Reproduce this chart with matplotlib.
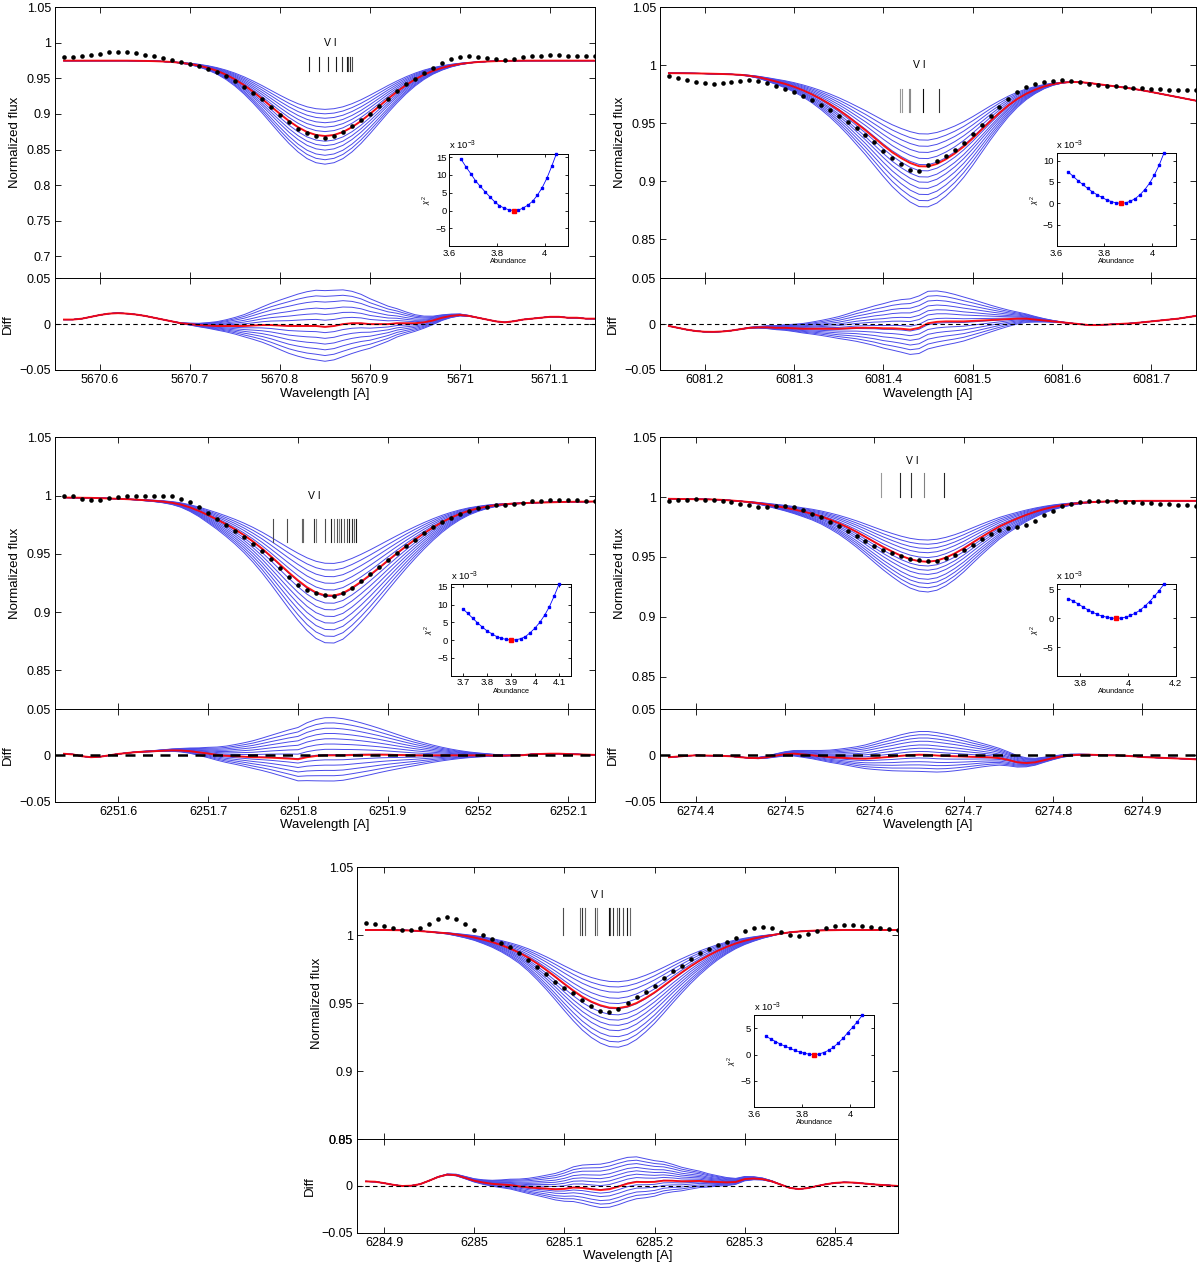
import numpy as np
import matplotlib
matplotlib.use("Agg")
import matplotlib.pyplot as plt
from matplotlib.ticker import FuncFormatter

plt.rcParams['font.family'] = ['Liberation Sans', 'DejaVu Sans']
plt.rcParams['mathtext.fontset'] = 'custom'
plt.rcParams['mathtext.rm'] = 'Liberation Sans'
plt.rcParams['mathtext.it'] = 'Liberation Sans:italic'

W, H = 1200, 1267
STEP = 0.01          # spectrum sampling [A]
BLUE = '#4b4bea'

# ---------------- V I 5670 ----------------
start_5670 = 5670.56
obs_5670 = [0.980, 0.980, 0.981, 0.983, 0.985, 0.9865, 0.987, 0.9865, 0.9853, 0.9836,
            0.9813, 0.9788, 0.9761, 0.9729, 0.9703, 0.9670, 0.9633, 0.9587, 0.9533, 0.9466,
            0.9386, 0.9299, 0.9204, 0.9097, 0.8986, 0.8881, 0.8795, 0.8727, 0.8685, 0.8660,
            0.8685, 0.8747, 0.8825, 0.8911, 0.9001, 0.9107, 0.9214, 0.9324, 0.9416, 0.9496,
            0.9573, 0.9647, 0.9718, 0.9770, 0.9803, 0.9809, 0.9801, 0.9788, 0.9773, 0.9766,
            0.978, 0.980, 0.981, 0.982, 0.983, 0.983, 0.982, 0.982, 0.981, 0.981]
fit_5670 = [0.975, 0.975, 0.975, 0.975, 0.975, 0.975, 0.975, 0.975, 0.9748, 0.9746,
             0.9743, 0.9738, 0.9731, 0.9719, 0.9703, 0.9680, 0.9648, 0.9607, 0.9553, 0.9486,
             0.9406, 0.9314, 0.9214, 0.9107, 0.9001, 0.8901, 0.8815, 0.8747, 0.8705, 0.8690,
             0.8705, 0.8747, 0.8815, 0.8901, 0.9001, 0.9107, 0.9214, 0.9314, 0.9406, 0.9486,
             0.9553, 0.9607, 0.9648, 0.9680, 0.9703, 0.9719, 0.9731, 0.9738, 0.9743, 0.9746,
             0.9748, 0.975, 0.975, 0.975, 0.975, 0.975, 0.975, 0.975, 0.975, 0.975]
cont_5670 = (5670.68, 5671.02)
depth_5670 = [0.64, 0.70, 0.76, 0.82, 0.88, 0.94, 1.00, 1.07, 1.13, 1.19, 1.26, 1.32, 1.38]
vlines_5670 = [5670.832, 5670.843, 5670.853, 5670.862, 5670.869, 5670.874, 5670.876, 5670.878, 5670.880]
vgrey_5670 = [0.1, 0.1, 0.15, 0.1, 0.2, 0.1, 0.3, 0.2, 0.3]
abund_5670 = [3.65, 3.67, 3.69, 3.71, 3.73, 3.75, 3.77, 3.79, 3.81, 3.83, 3.85,
              3.87, 3.89, 3.91, 3.93, 3.95, 3.97, 3.99, 4.01, 4.03, 4.05]
chi2_e3_5670 = [14.4, 12.3, 10.4, 8.4, 6.8, 5.3, 3.9, 2.5, 1.4, 0.7, 0.2,
                0.0, 0.1, 0.7, 1.5, 2.6, 4.3, 6.4, 9.1, 12.4, 16.0]

# ---------------- V I 6081 ----------------
start_6081 = 6081.16
obs_6081 = [0.9912, 0.9892, 0.9871, 0.9855, 0.9846, 0.9843, 0.9845, 0.9852, 0.9863, 0.9870,
            0.9863, 0.9845, 0.9820, 0.9800, 0.9770, 0.9735, 0.9700, 0.9660, 0.9615, 0.9565,
            0.9515, 0.9460, 0.9400, 0.9335, 0.9265, 0.9205, 0.9150, 0.9098, 0.9090, 0.9138,
            0.9175, 0.9220, 0.9270, 0.9330, 0.9405, 0.9485, 0.9565, 0.9640, 0.9710, 0.9770,
            0.9815, 0.9840, 0.9858, 0.9868, 0.9870, 0.9866, 0.9855, 0.9838, 0.9828, 0.9823,
            0.9818, 0.9813, 0.9807, 0.9804, 0.9800, 0.9795, 0.9790, 0.9785, 0.9785, 0.9785]
fit_6081 = [0.9932, 0.9932, 0.9931, 0.9930, 0.9929, 0.9927, 0.9925, 0.9922, 0.9918, 0.9910,
            0.9898, 0.9880, 0.9860, 0.9840, 0.9815, 0.9785, 0.9750, 0.9710, 0.9665, 0.9615,
            0.9560, 0.9500, 0.9440, 0.9375, 0.9310, 0.9250, 0.9200, 0.9158, 0.9130, 0.9128,
            0.9150, 0.9190, 0.9240, 0.9300, 0.9370, 0.9445, 0.9520, 0.9590, 0.9655, 0.9710,
            0.9755, 0.9790, 0.9818, 0.9838, 0.9850, 0.9856, 0.9855, 0.9848, 0.9838, 0.9828,
            0.9818, 0.9808, 0.9797, 0.9784, 0.9770, 0.9755, 0.9740, 0.9725, 0.9710, 0.9695]
cont_6081 = (6081.22, 6081.62)
depth_6081 = [0.63, 0.70, 0.77, 0.84, 0.91, 0.98, 1.05, 1.12, 1.18, 1.25, 1.32, 1.39, 1.46]
vlines_6081 = [6081.419, 6081.421, 6081.429, 6081.430, 6081.444, 6081.462]
vgrey_6081 = [0.6, 0.6, 0.55, 0.55, 0.05, 0.2]
abund_6081 = [3.65, 3.67, 3.69, 3.71, 3.73, 3.75, 3.77, 3.79, 3.81, 3.83, 3.85,
              3.87, 3.89, 3.91, 3.93, 3.95, 3.97, 3.99, 4.01, 4.03, 4.05]
chi2_e3_6081 = [7.3, 6.3, 5.3, 4.4, 3.5, 2.7, 2.0, 1.4, 0.8, 0.4, 0.1,
                0.0, 0.1, 0.5, 1.1, 2.0, 3.2, 4.7, 6.6, 8.9, 11.7]

# ---------------- V I 6251 ----------------
start_6251 = 6251.54
obs_6251 = [1.0000, 0.9992, 0.9971, 0.9960, 0.9963, 0.9975, 0.9987, 0.9994, 1.0000, 1.0000,
            1.0000, 0.9998, 0.9992, 0.9974, 0.9943, 0.9900, 0.9852, 0.9800, 0.9749, 0.9700,
            0.9646, 0.9586, 0.9523, 0.9453, 0.9378, 0.9303, 0.9230, 0.9193, 0.9161, 0.9143,
            0.9141, 0.9163, 0.9210, 0.9265, 0.9324, 0.9387, 0.9449, 0.9509, 0.9567, 0.9622,
            0.9676, 0.9726, 0.9771, 0.9810, 0.9843, 0.9870, 0.9890, 0.9906, 0.9915, 0.9923,
            0.9931, 0.9937, 0.9950, 0.9955, 0.9960, 0.9962, 0.9960, 0.9958, 0.9956, 0.9954]
fit_6251 = [0.9983, 0.9982, 0.9981, 0.9980, 0.9978, 0.9975, 0.9972, 0.9969, 0.9965, 0.9960,
            0.9955, 0.9948, 0.9938, 0.9922, 0.9898, 0.9868, 0.9832, 0.9795, 0.9754, 0.9710,
            0.9661, 0.9606, 0.9545, 0.9478, 0.9408, 0.9338, 0.9272, 0.9213, 0.9168, 0.9143,
            0.9141, 0.9163, 0.9207, 0.9260, 0.9318, 0.9380, 0.9443, 0.9505, 0.9565, 0.9622,
            0.9676, 0.9726, 0.9771, 0.9810, 0.9843, 0.9870, 0.9890, 0.9906, 0.9918, 0.9926,
            0.9931, 0.9935, 0.9938, 0.9940, 0.9942, 0.9944, 0.9946, 0.9947, 0.9948, 0.9949]
cont_6251 = (6251.60, 6252.06)
depth_6251 = [0.66, 0.73, 0.80, 0.87, 0.94, 1.01, 1.08, 1.15, 1.22, 1.29, 1.36, 1.43, 1.50]
vlines_6251 = [6251.772, 6251.788, 6251.804, 6251.806, 6251.818, 6251.820, 6251.830, 6251.837,
               6251.840, 6251.843, 6251.845, 6251.848, 6251.851, 6251.854, 6251.857, 6251.860,
               6251.862, 6251.864]
vgrey_6251 = [0.3, 0.3, 0.4, 0.4, 0.2, 0.5, 0.3, 0.1, 0.5, 0.3, 0.5, 0.2, 0.4, 0.3, 0.1, 0.2, 0.4, 0.1]
abund_6251 = [3.70, 3.72, 3.74, 3.76, 3.78, 3.80, 3.82, 3.84, 3.86, 3.88, 3.90,
              3.92, 3.94, 3.96, 3.98, 4.00, 4.02, 4.04, 4.06, 4.08, 4.10]
chi2_e3_6251 = [8.8, 7.5, 6.2, 4.9, 3.7, 2.6, 1.8, 1.0, 0.5, 0.2, 0.0,
                0.1, 0.4, 1.0, 2.1, 3.4, 5.0, 7.0, 9.4, 12.4, 15.7]

# ---------------- V I 6274 ----------------
start_6274 = 6274.37
obs_6274 = [0.9966, 0.9972, 0.9979, 0.9983, 0.9980, 0.9976, 0.9971, 0.9962, 0.9946, 0.9931,
            0.9920, 0.9918, 0.9922, 0.9924, 0.9915, 0.9890, 0.9863, 0.9830, 0.9793, 0.9758,
            0.9718, 0.9675, 0.9632, 0.9595, 0.9561, 0.9530, 0.9505, 0.9485, 0.9472, 0.9465,
            0.9468, 0.9488, 0.9520, 0.9559, 0.9604, 0.9649, 0.9690, 0.9725, 0.9740, 0.9747,
            0.9769, 0.9803, 0.9848, 0.9888, 0.9922, 0.9945, 0.9957, 0.9964, 0.9965, 0.9965,
            0.9966, 0.9963, 0.9958, 0.9951, 0.9947, 0.9943, 0.9939, 0.9935, 0.9931, 0.9926]
fit_6274 = [0.9986, 0.9985, 0.9984, 0.9983, 0.9982, 0.9980, 0.9977, 0.9972, 0.9966, 0.9959,
            0.9950, 0.9938, 0.9925, 0.9912, 0.9897, 0.9880, 0.9862, 0.9840, 0.9813, 0.9783,
            0.9748, 0.9710, 0.9668, 0.9625, 0.9583, 0.9545, 0.9510, 0.9482, 0.9465, 0.9460,
            0.9470, 0.9495, 0.9530, 0.9572, 0.9620, 0.9667, 0.9712, 0.9755, 0.9790, 0.9822,
            0.9852, 0.9878, 0.9900, 0.9918, 0.9932, 0.9943, 0.9951, 0.9957, 0.9961, 0.9964,
            0.9966, 0.9967, 0.9968, 0.9969, 0.9969, 0.9969, 0.9969, 0.9969, 0.9969, 0.9969]
cont_6274 = (6274.45, 6274.86)
depth_6274 = [0.64, 0.71, 0.78, 0.85, 0.93, 1.00, 1.07, 1.14, 1.21, 1.29, 1.36, 1.43, 1.50]
vlines_6274 = [6274.607, 6274.629, 6274.641, 6274.656, 6274.678]
vgrey_6274 = [0.6, 0.15, 0.2, 0.5, 0.15]
abund_6274 = [3.75, 3.77, 3.79, 3.81, 3.83, 3.85, 3.87, 3.89, 3.91, 3.93, 3.95,
              3.97, 3.99, 4.01, 4.03, 4.05, 4.07, 4.09, 4.11, 4.13, 4.15]
chi2_e3_6274 = [3.4, 3.0, 2.5, 2.0, 1.5, 1.1, 0.7, 0.4, 0.2, 0.05, 0.0,
                0.05, 0.2, 0.5, 0.9, 1.4, 2.1, 2.9, 3.8, 4.8, 5.9]

# ---------------- V I 6285 ----------------
start_6285 = 6284.88
obs_6285 = [1.0088, 1.0085, 1.0070, 1.0051, 1.0037, 1.0038, 1.0051, 1.0083, 1.0117, 1.0137,
            1.0122, 1.0083, 1.0041, 1.0005, 0.9973, 0.9944, 0.9912, 0.9868, 0.9820, 0.9770,
            0.9717, 0.9660, 0.9612, 0.9576, 0.9527, 0.9478, 0.9441, 0.9434, 0.9459, 0.9502,
            0.9546, 0.9580, 0.9624, 0.9685, 0.9734, 0.9776, 0.9824, 0.9868, 0.9898, 0.9929,
            0.9954, 0.9983, 1.0034, 1.0056, 1.0063, 1.0051, 1.0027, 1.0002, 0.9995, 1.0010,
            1.0034, 1.0056, 1.0071, 1.0078, 1.0076, 1.0068, 1.0059, 1.0051, 1.0046, 1.0039]
fit_6285 = [1.0039, 1.0039, 1.0039, 1.0038, 1.0037, 1.0035, 1.0031, 1.0026, 1.0020, 1.0015,
            1.0006, 0.9996, 0.9984, 0.9968, 0.9950, 0.9928, 0.9902, 0.9872, 0.9835, 0.9792,
            0.9745, 0.9695, 0.9643, 0.9593, 0.9548, 0.9512, 0.9485, 0.9468, 0.9465, 0.9477,
            0.9502, 0.9538, 0.9580, 0.9628, 0.9678, 0.9726, 0.9772, 0.9814, 0.9852, 0.9886,
            0.9915, 0.9940, 0.9960, 0.9976, 0.9990, 1.0001, 1.0012, 1.0022, 1.0028, 1.0032,
            1.0035, 1.0037, 1.0038, 1.0039, 1.0039, 1.0039, 1.0039, 1.0039, 1.0039, 1.0039]
cont_6285 = (6284.95, 6285.34)
depth_6285 = [0.65, 0.72, 0.79, 0.87, 0.94, 1.01, 1.09, 1.16, 1.23, 1.30, 1.38, 1.45, 1.52]
vlines_6285 = [6285.099, 6285.117, 6285.120, 6285.123, 6285.134, 6285.136, 6285.149,
               6285.151, 6285.154, 6285.158, 6285.161, 6285.165, 6285.169, 6285.173]
vgrey_6285 = [0.3, 0.4, 0.2, 0.4, 0.3, 0.5, 0.05, 0.3, 0.2, 0.4, 0.2, 0.3, 0.1, 0.4]
abund_6285 = [3.65, 3.67, 3.69, 3.71, 3.73, 3.75, 3.77, 3.79, 3.81, 3.83, 3.85,
              3.87, 3.89, 3.91, 3.93, 3.95, 3.97, 3.99, 4.01, 4.03, 4.05]
chi2_e3_6285 = [3.5, 3.0, 2.5, 2.0, 1.6, 1.2, 0.8, 0.5, 0.25, 0.08, 0.0,
                0.1, 0.4, 0.8, 1.4, 2.2, 3.1, 4.2, 5.2, 6.3, 7.5]

# tick labels
xt_5670 = [5670.6, 5670.7, 5670.8, 5670.9, 5671.0, 5671.1]
xt_6081 = [6081.2, 6081.3, 6081.4, 6081.5, 6081.6, 6081.7]
xt_6251 = [6251.6, 6251.7, 6251.8, 6251.9, 6252.0, 6252.1]
xt_6274 = [6274.4, 6274.5, 6274.6, 6274.7, 6274.8, 6274.9]
xt_6285 = [6284.9, 6285.0, 6285.1, 6285.2, 6285.3, 6285.4]


def fmt(v, pos=None):
    return ('%g' % v).replace('-', '\u2212')


FMT = FuncFormatter(fmt)


def px_box(x0, x1, y0, y1):
    return [x0 / W, 1 - y1 / H, (x1 - x0) / W, (y1 - y0) / H]


def style(ax, size, length):
    ax.tick_params(direction='in', top=True, right=True, length=length,
                   width=0.6, labelsize=size, pad=3)
    for s in ax.spines.values():
        s.set_linewidth(0.7)
    ax.xaxis.set_major_formatter(FMT)
    ax.yaxis.set_major_formatter(FMT)


def blue_models(wl, fit, cont, depth):
    # absorption part relative to a straight local continuum between the anchors
    lo, hi = cont
    f_lo = np.interp(lo, wl, fit)
    f_hi = np.interp(hi, wl, fit)
    local = f_lo + (f_hi - f_lo) * (wl - lo) / (hi - lo)
    absorb = np.where((wl > lo) & (wl < hi), np.clip(local - fit, 0, None), 0.0)
    return [fit - (s - 1.0) * absorb for s in depth]


def draw_panel(fig, p):
    x0, x1, y0, yb, y1 = p['px']
    ax = fig.add_axes(px_box(x0, x1, y0, yb))
    dax = fig.add_axes(px_box(x0, x1, yb, y1))

    obs = np.array(p['obs'])
    fit = np.array(p['fit'])
    wl = p['start'] + STEP * np.arange(len(obs))
    models = blue_models(wl, fit, p['cont'], p['depth'])

    for m in models:
        ax.plot(wl, m, color=BLUE, lw=0.7, zorder=2)
    ax.plot(wl, fit, color='red', lw=1.4, alpha=0.9, zorder=3)
    ax.plot(wl, obs, 'o', color='k', ms=3.3, mew=0, zorder=4)

    lo, hi, ty = p['marks']
    for x, g in zip(p['vlines'], p['vgrey']):
        ax.plot([x, x], [lo, hi], color=str(g), lw=0.8, zorder=2)
    ax.text((min(p['vlines']) + max(p['vlines'])) / 2, ty, 'V I',
            ha='center', va='center', fontsize=7.5)

    ax.set_xlim(p['xlim'])
    ax.set_ylim(p['ylim'], 1.05)
    ax.set_xticks(p['xticks'])
    ax.set_yticks(p['yticks'])
    style(ax, 9, 4)
    ax.tick_params(labelbottom=False)
    ax.set_ylabel('Normalized flux', fontsize=9.5)

    for m in models:
        dax.plot(wl, obs - m, color=BLUE, lw=0.7, zorder=2)
    dax.plot(wl, obs - fit, color='red', lw=1.4, alpha=0.9, zorder=3)
    dax.axhline(0, color='k', ls=(0, (4, 3)), lw=p['zero_lw'], zorder=4)
    dax.set_xlim(p['xlim'])
    dax.set_ylim(-0.05, 0.05)
    dax.set_xticks(p['xticks'])
    dax.set_yticks([-0.05, 0, 0.05])
    style(dax, 9, 4)
    dax.set_ylabel('Diff', fontsize=9.5)
    dax.set_xlabel('Wavelength [A]', fontsize=9.5, labelpad=1)

    ix0, ix1, iy0, iy1 = p['inset_px']
    iax = fig.add_axes(px_box(ix0, ix1, iy0, iy1))
    chi = np.array(p['chi2'])
    ab = np.array(p['abund'])
    iax.plot(ab, chi, '-', color='b', lw=0.6, marker='s', ms=2.0, mfc='b', mec='b',
             clip_on=False, zorder=3)
    k = int(np.argmin(chi))
    iax.plot(ab[k], chi[k], 's', color='r', ms=2.6, zorder=4)
    iax.set_xlim(p['ab_xlim'])
    iax.set_ylim(-10, chi.max())
    iax.set_xticks(p['ab_xticks'])
    iax.set_yticks(p['ab_yticks'])
    style(iax, 6.8, 2)
    iax.tick_params(pad=2)
    iax.set_xlabel('Abundance', fontsize=5.3, labelpad=0.5)
    iax.set_ylabel(r'$\chi^2$', fontsize=5.5, labelpad=1)
    iax.text(0.0, 1.015, r'x 10$^{-3}$', transform=iax.transAxes,
             ha='left', va='bottom', fontsize=6.8)


panels = [
    dict(px=(55, 595, 7.3, 278.3, 370.0), start=start_5670, obs=obs_5670, fit=fit_5670,
         cont=cont_5670, depth=depth_5670, vlines=vlines_5670, vgrey=vgrey_5670,
         marks=(0.96, 0.98, 1.0), xlim=(5670.55, 5671.15), ylim=0.669, xticks=xt_5670,
         yticks=[0.7, 0.75, 0.8, 0.85, 0.9, 0.95, 1.0, 1.05], zero_lw=0.8,
         inset_px=(449.3, 568.3, 153.7, 246.0), abund=abund_5670, chi2=chi2_e3_5670,
         ab_xlim=(3.6, 4.1), ab_xticks=[3.6, 3.8, 4.0], ab_yticks=[-5, 0, 5, 10, 15]),
    dict(px=(660, 1196, 7.3, 278.3, 370.0), start=start_6081, obs=obs_6081, fit=fit_6081,
         cont=cont_6081, depth=depth_6081, vlines=vlines_6081, vgrey=vgrey_6081,
         marks=(0.96, 0.98, 1.0), xlim=(6081.15, 6081.75), ylim=0.8164, xticks=xt_6081,
         yticks=[0.85, 0.9, 0.95, 1.0, 1.05], zero_lw=0.8,
         inset_px=(1056.5, 1175.8, 153.3, 246.0), abund=abund_6081, chi2=chi2_e3_6081,
         ab_xlim=(3.6, 4.1), ab_xticks=[3.6, 3.8, 4.0], ab_yticks=[-5, 0, 5, 10]),
    dict(px=(55, 595, 437.3, 709.0, 801.7), start=start_6251, obs=obs_6251, fit=fit_6251,
         cont=cont_6251, depth=depth_6251, vlines=vlines_6251, vgrey=vgrey_6251,
         marks=(0.96, 0.98, 1.0), xlim=(6251.53, 6252.13), ylim=0.8168, xticks=xt_6251,
         yticks=[0.85, 0.9, 0.95, 1.0, 1.05], zero_lw=1.8,
         inset_px=(451.0, 571.0, 584.3, 675.7), abund=abund_6251, chi2=chi2_e3_6251,
         ab_xlim=(3.65, 4.15), ab_xticks=[3.7, 3.8, 3.9, 4.0, 4.1], ab_yticks=[-5, 0, 5, 10, 15]),
    dict(px=(660, 1196, 437.3, 709.0, 801.7), start=start_6274, obs=obs_6274, fit=fit_6274,
         cont=cont_6274, depth=depth_6274, vlines=vlines_6274, vgrey=vgrey_6274,
         marks=(1.0, 1.02, 1.03), xlim=(6274.36, 6274.96), ylim=0.823, xticks=xt_6274,
         yticks=[0.85, 0.9, 0.95, 1.0, 1.05], zero_lw=1.8,
         inset_px=(1056.5, 1175.8, 584.3, 676.0), abund=abund_6274, chi2=chi2_e3_6274,
         ab_xlim=(3.7, 4.2), ab_xticks=[3.8, 4.0, 4.2], ab_yticks=[-5, 0, 5]),
    dict(px=(357, 898, 867.3, 1139.3, 1232.7), start=start_6285, obs=obs_6285, fit=fit_6285,
         cont=cont_6285, depth=depth_6285, vlines=vlines_6285, vgrey=vgrey_6285,
         marks=(1.0, 1.02, 1.03), xlim=(6284.87, 6285.47), ylim=0.85, xticks=xt_6285,
         yticks=[0.85, 0.9, 0.95, 1.0, 1.05], zero_lw=0.8,
         inset_px=(753.8, 874.3, 1015.3, 1107.0), abund=abund_6285, chi2=chi2_e3_6285,
         ab_xlim=(3.6, 4.1), ab_xticks=[3.6, 3.8, 4.0], ab_yticks=[-5, 0, 5]),
]

fig = plt.figure(figsize=(W / 100, H / 100), dpi=100)
for p in panels:
    draw_panel(fig, p)
fig.savefig('out.png', dpi=100)
